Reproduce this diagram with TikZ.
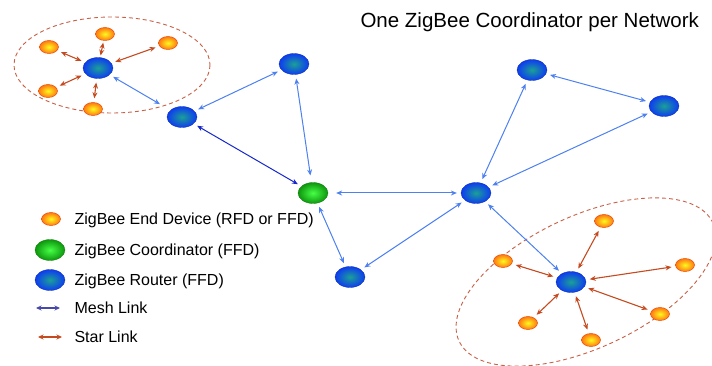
\documentclass[tikz,border=0pt]{standalone}
\usepackage{fontspec}
\setmainfont{Liberation Sans}
\usetikzlibrary{arrows.meta,shapes.geometric}
\definecolor{meshblue}{RGB}{77,128,240}
\definecolor{darkmesh}{RGB}{22,40,205}
\definecolor{keymesh}{RGB}{72,72,170}
\definecolor{starred}{RGB}{196,74,32}
\definecolor{clusterred}{RGB}{200,96,70}
\definecolor{routerblue}{RGB}{14,60,240}
\definecolor{routerteal}{RGB}{26,160,150}
\definecolor{coordlight}{RGB}{70,255,70}
\definecolor{coorddark}{RGB}{14,150,14}
\definecolor{devyellow}{RGB}{255,250,30}
\definecolor{devorange}{RGB}{255,120,16}
\definecolor{devborder}{RGB}{230,80,20}

\begin{document}
\begin{tikzpicture}[x=1pt,y=-1pt,
    router/.style={ellipse,draw=routerblue!70!black,line width=0.3pt,shading=radial,
      inner color=routerteal,outer color=routerblue,minimum width=30pt,minimum height=21pt,inner sep=0pt},
    coordnode/.style={ellipse,draw=coorddark!80!black,line width=0.3pt,shading=radial,
      inner color=coordlight,outer color=coorddark,minimum width=30pt,minimum height=21pt,inner sep=0pt},
    enddev/.style={ellipse,draw=devborder,line width=0.5pt,shading=radial,
      inner color=devyellow,outer color=devorange,minimum width=19pt,minimum height=13pt,inner sep=0pt},
    mesh/.style={meshblue,line width=1pt,{Stealth[length=6pt,width=5pt]}-{Stealth[length=6pt,width=5pt]},
      shorten <=4pt,shorten >=4pt},
    star/.style={starred,line width=1.1pt,{Stealth[length=6pt,width=5pt]}-{Stealth[length=6pt,width=5pt]},
      shorten <=4pt,shorten >=4pt},
    keylink/.style={line width=1.1pt,{Stealth[length=5.5pt,width=5pt]}-{Stealth[length=5.5pt,width=5pt]}},
    keytext/.style={anchor=base west,font=\fontsize{16}{19}\selectfont},
    cluster/.style={clusterred,line width=0.9pt,dash pattern=on 4pt off 3pt}]
  \useasboundingbox (0,0) rectangle (712,366);

  \node[anchor=base west,font=\fontsize{20.5}{24}\selectfont] (title) at (357,28)
    {One ZigBee Coordinator per Network};

  \draw[cluster] (112,65) ellipse [x radius=98, y radius=48];
  \draw[cluster,rotate around={25:(586,282)}] (586,282) ellipse [x radius=140, y radius=66];

  \node[router] (hubA) at (98,68) {};
  \node[router] (rtA) at (182,117) {};
  \node[router] (rtB) at (294,64) {};
  \node[coordnode] (coord) at (313,193) {};
  \node[router] (rtC) at (350,277) {};
  \node[router] (rtD) at (476,193) {};
  \node[router] (rtE) at (532,70) {};
  \node[router] (rtF) at (664,106) {};
  \node[router] (hubB) at (571,282) {};

  \node[enddev] (devA1) at (49,47) {};
  \node[enddev] (devA2) at (105,34) {};
  \node[enddev] (devA3) at (168,43) {};
  \node[enddev] (devA4) at (48,91) {};
  \node[enddev] (devA5) at (93,109) {};

  \node[enddev] (devB1) at (604,221) {};
  \node[enddev] (devB2) at (503,261) {};
  \node[enddev] (devB3) at (685,265) {};
  \node[enddev] (devB4) at (660,314) {};
  \node[enddev] (devB5) at (528,323) {};
  \node[enddev] (devB6) at (591,340) {};

  \draw[mesh,shorten >=12pt] (hubA) -- (rtA);
  \draw[mesh] (rtA) -- (rtB);
  \draw[mesh,darkmesh] (rtA) -- (coord);
  \draw[mesh,shorten >=7pt] (rtB) -- (coord);
  \draw[mesh,shorten <=8pt] (coord) -- (rtD);
  \draw[mesh] (coord) -- (rtC);
  \draw[mesh] (rtC) -- (rtD);
  \draw[mesh] (rtD) -- (rtE);
  \draw[mesh] (rtE) -- (rtF);
  \draw[mesh] (rtD) -- (rtF);
  \draw[mesh] (rtD) -- (hubB);

  \foreach \d in {devA1,devA3,devA4,devA5}
    \draw[star] (hubA) -- (\d);
  \draw[star,shorten <=2pt,shorten >=2pt] (hubA) -- (devA2);
  \foreach \d in {devB1,devB2,devB3,devB4,devB5,devB6}
    \draw[star] (hubB) -- (\d);

  \node[enddev] (keydev) at (51,219) {};
  \node[coordnode] (keycoord) at (50,250) {};
  \node[router] (keyrouter) at (50,280) {};
  \coordinate (meshL) at (36,308);
  \coordinate (meshR) at (60,308);
  \coordinate (starL) at (38,337);
  \coordinate (starR) at (62,337);
  \draw[keylink,keymesh] (meshL) -- (meshR);
  \draw[keylink,starred] (starL) -- (starR);

  \node[keytext] (keydevtext) at (71,225) {ZigBee End Device (RFD or FFD)};
  \node[keytext] (keycoordtext) at (71,255) {ZigBee Coordinator (FFD)};
  \node[keytext] (keyroutertext) at (71,285) {ZigBee Router (FFD)};
  \node[keytext] (keymeshtext) at (71,313) {Mesh Link};
  \node[keytext] (keystartext) at (71,342) {Star Link};
\end{tikzpicture}
\end{document}
